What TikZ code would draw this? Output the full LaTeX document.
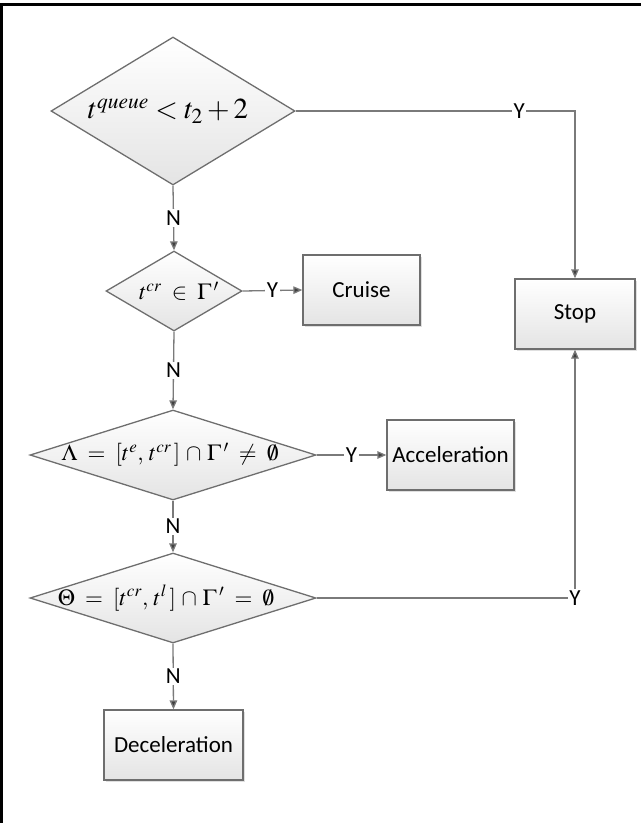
\documentclass[tikz,border=0pt]{standalone}
\usepackage{mathptmx}
\usepackage[no-math]{fontspec}
\setmainfont{Carlito}
\usetikzlibrary{shapes.geometric,arrows.meta,shadows}
\definecolor{linegray}{HTML}{7A7A7A}
\definecolor{edgegray}{HTML}{6E6E6E}
\definecolor{headgray}{HTML}{404040}
\definecolor{fillbot}{HTML}{E4E4E4}
\begin{document}
\begin{tikzpicture}[x=1pt,y=-1pt,
  boxnode/.style={draw=edgegray, line width=1.3pt, top color=white, bottom color=fillbot,
    minimum width=#1, minimum height=70pt, inner sep=0pt,
    font=\fontsize{23}{27}\selectfont,
    drop shadow={shadow xshift=1.5pt, shadow yshift=-1.5pt, opacity=0.25, fill=gray}},
  dianode/.style 2 args={diamond, draw=edgegray, line width=1.3pt, top color=white, bottom color=fillbot,
    minimum width=#1, minimum height=#2, inner sep=0pt, shape aspect=1},
  mathtext/.style={inner sep=0pt, font=\fontsize{#1}{#1}\selectfont},
  lbl/.style={fill=white, inner sep=1.5pt, font=\fontsize{23}{27}\selectfont, text=black},
  conn/.style={draw=linegray, line width=1.3pt},
  arr/.style={conn, -{Triangle[length=9pt,width=7.5pt,fill=headgray]}}
]
\useasboundingbox (0,0) rectangle (641,823);
\draw[line width=2.5pt] (1.5,823) -- (1.5,4.5) -- (641,4.5);

% decision nodes
\node[dianode={244pt}{148pt}] (d1) at (173,111) {};
\node[mathtext=29] (t1) at (168,111) {$t^{queue}<t_2+2$};

\node[dianode={136pt}{80pt}] (d2) at (174,291) {};
\node[mathtext=23] (t2) at (179,291) {$t^{cr}\;\in\;\Gamma\,'$};

\node[dianode={286pt}{90pt}] (d3) at (173,455) {};
\node[mathtext=23] (t3) at (170,455) {$\Lambda\;=\;[t^{e},\,t^{cr}\,]\,\cap\,\Gamma\,'\;\neq\;\emptyset$};

\node[dianode={286pt}{90pt}] (d4) at (173,598) {};
\node[mathtext=23] (t4) at (166,598) {$\Theta\;=\;[t^{cr},\,t^{l}\,]\,\cap\,\Gamma\,'\;=\;\emptyset$};

% process boxes
\node[boxnode=117pt] (cruise) at (361.5,290) {Cruise};
\node[boxnode=120pt] (stop) at (575,314) {Stop};
\node[boxnode=127pt] (accel) at (450.5,455) {Acceleration};
\node[boxnode=139pt] (decel) at (173.5,745) {Deceleration};

\coordinate (c1) at (stop.north |- d1.east);
\coordinate (c2) at (stop.south |- d4.east);

% connectors
\draw[arr] (d1.south) -- node[lbl]{N} (d2.north);
\draw[arr] (d2.south) -- node[lbl]{N} (d3.north);
\draw[arr] (d3.south) -- node[lbl]{N} (d4.north);
\draw[arr] (d4.south) -- node[lbl]{N} (decel.north);

\draw[arr] (d2.east) -- node[lbl]{Y} (cruise.west);
\draw[arr] (d3.east) -- node[lbl]{Y} (accel.west);

\draw[arr] (d1.east) -- node[lbl,pos=0.8]{Y} (c1) -- (stop.north);
\draw[arr] (d4.east) -- (c2) node[lbl]{Y} -- (stop.south);
\end{tikzpicture}
\end{document}
